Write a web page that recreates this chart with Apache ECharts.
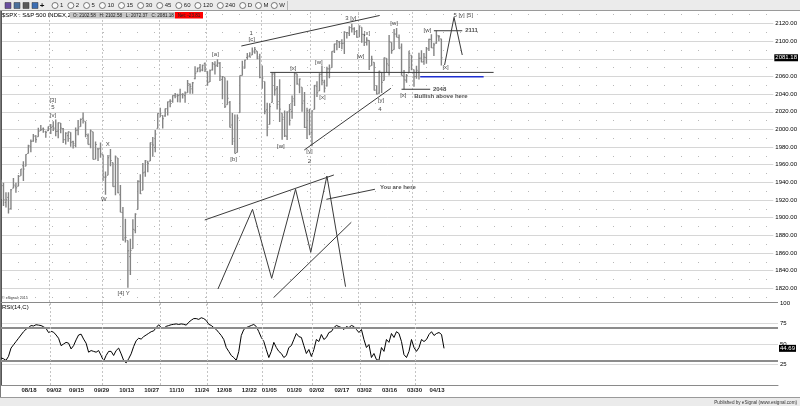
<!DOCTYPE html>
<html><head><meta charset="utf-8">
<script src="https://cdn.jsdelivr.net/npm/echarts@6/dist/echarts.min.js"></script>
<style>html,body{margin:0;padding:0;background:#fff}#c{width:800px;height:406px}</style>
</head><body><div id="c"></div>
<script>
// ---------- DATA ----------
const dates = ['08/04','08/05','08/06','08/07','08/08','08/11','08/12','08/13','08/14','08/15','08/18','08/19','08/20','08/21','08/22','08/25','08/26','08/27','08/28','08/29',
'09/02','09/03','09/04','09/05','09/08','09/09','09/10','09/11','09/12','09/15','09/16','09/17','09/18','09/19','09/22','09/23','09/24','09/25','09/26','09/29','09/30',
'10/01','10/02','10/03','10/06','10/07','10/08','10/09','10/10','10/13','10/14','10/15','10/16','10/17','10/20','10/21','10/22','10/23','10/24','10/27','10/28','10/29','10/30','10/31',
'11/03','11/04','11/05','11/06','11/07','11/10','11/11','11/12','11/13','11/14','11/17','11/18','11/19','11/20','11/21','11/24','11/25','11/26','11/28',
'12/01','12/02','12/03','12/04','12/05','12/08','12/09','12/10','12/11','12/12','12/15','12/16','12/17','12/18','12/19','12/22','12/23','12/24','12/26','12/29','12/30','12/31',
'01/02','01/05','01/06','01/07','01/08','01/09','01/12','01/13','01/14','01/15','01/16','01/20','01/21','01/22','01/23','01/26','01/27','01/28','01/29','01/30',
'02/02','02/03','02/04','02/05','02/06','02/09','02/10','02/11','02/12','02/13','02/17','02/18','02/19','02/20','02/23','02/24','02/25','02/26','02/27',
'03/02','03/03','03/04','03/05','03/06','03/09','03/10','03/11','03/12','03/13','03/16','03/17','03/18','03/19','03/20','03/23','03/24','03/25','03/26','03/27','03/30','03/31',
'04/01','04/02','04/06','04/07','04/08','04/09','04/10','04/13','04/14','04/15','04/16','04/17'];

const open = [1926.6,1936.3,1917.3,1923.0,1910.4,1933.4,1935.7,1935.6,1947.4,1958.9,1958.4,1972.7,1980.5,1986.8,1992.6,1991.7,1998.6,2000.5,1997.4,1998.5,
2004.1,2003.6,2001.7,1998.0,2007.2,2000.7,1988.4,1992.9,1996.7,1986.0,1981.9,1999.3,2003.1,2012.7,2009.1,1992.8,1983.3,1997.3,1966.2,1978.0,1978.2,
1971.4,1945.8,1948.0,1970.0,1962.4,1935.6,1967.7,1925.9,1905.7,1877.1,1874.2,1855.9,1864.9,1885.9,1909.4,1941.3,1931.0,1951.6,1963.0,1964.1,1983.3,1979.5,2001.2,
2018.2,2015.8,2015.3,2023.3,2032.0,2032.0,2038.2,2037.8,2039.2,2039.7,2038.3,2041.5,2051.2,2046.0,2057.5,2065.1,2070.2,2067.4,2074.8,
2065.8,2053.8,2067.5,2073.6,2072.8,2074.8,2056.6,2058.9,2027.9,2030.4,2005.0,1986.7,1973.8,2019.0,2061.0,2069.3,2081.5,2083.3,2084.3,2087.6,2088.5,2082.1,
2058.9,2054.4,2022.2,2005.6,2030.6,2063.5,2046.1,2031.6,2018.4,2013.8,1992.3,2020.8,2020.2,2034.7,2063.0,2050.4,2047.9,2032.3,2002.5,2019.4,
1996.7,2022.7,2048.9,2043.5,2062.3,2053.5,2049.4,2068.6,2070.0,2088.8,2096.5,2099.2,2097.6,2097.7,2109.8,2109.1,2115.3,2113.9,2110.9,
2105.2,2115.8,2107.7,2098.5,2100.9,2072.3,2076.1,2044.7,2041.1,2064.6,2055.4,2080.6,2072.8,2098.7,2090.3,2108.0,2103.9,2093.1,2059.9,2055.8,2064.1,2084.1,
2067.6,2060.0,2064.9,2080.8,2076.9,2081.3,2091.5,2102.0,2092.3,2097.8,2105.0,2102.6];

const high = [1942.9,1939.6,1928.9,1928.9,1932.4,1944.9,1939.7,1948.4,1955.2,1964.0,1972.0,1982.6,1988.6,1994.8,1993.5,2002.0,2005.0,2002.1,1998.6,2003.4,
2006.1,2009.3,2011.2,2007.7,2007.2,2001.6,1996.7,1997.5,1996.7,1987.2,2002.3,2010.7,2012.3,2019.3,2009.1,1995.4,1999.8,1997.3,1986.4,1978.6,1985.2,
1971.7,1952.3,1971.0,1977.8,1962.4,1970.4,1967.7,1937.0,1912.1,1898.7,1874.2,1876.0,1898.2,1905.0,1942.5,1949.3,1962.0,1965.3,1964.6,1985.2,1991.4,1999.4,2018.2,
2024.5,2016.0,2023.8,2031.6,2034.3,2038.7,2041.3,2040.3,2046.2,2041.1,2043.1,2056.1,2052.1,2053.8,2071.5,2070.2,2074.2,2073.4,2075.8,
2065.8,2068.0,2076.3,2077.3,2079.5,2076.3,2060.6,2058.9,2055.5,2032.3,2018.7,2016.9,2016.8,2061.2,2077.9,2078.8,2086.7,2087.3,2092.7,2093.5,2088.6,2085.6,
2072.4,2054.4,2030.3,2029.6,2064.1,2064.4,2049.3,2056.9,2018.4,2021.4,2020.5,2028.9,2038.3,2064.6,2063.0,2057.6,2047.9,2042.5,2024.6,2023.3,
2021.7,2050.3,2054.7,2063.6,2072.4,2056.2,2070.9,2073.5,2088.5,2097.0,2101.3,2100.2,2102.1,2111.1,2110.1,2117.0,2119.6,2115.8,2112.7,
2117.5,2115.8,2107.7,2104.3,2100.9,2083.5,2076.2,2050.1,2066.4,2064.9,2081.4,2080.6,2106.9,2098.7,2113.9,2114.9,2107.6,2097.4,2067.2,2062.8,2089.0,2084.1,
2067.9,2072.2,2087.0,2089.8,2086.7,2093.4,2102.6,2107.7,2098.3,2111.9,2107.0,2102.6];

const low = [1921.2,1913.3,1911.5,1904.8,1909.0,1933.4,1928.3,1935.6,1947.4,1941.5,1958.4,1972.7,1974.1,1986.1,1984.8,1991.7,1998.3,1996.2,1990.5,1998.3,
1994.9,1998.1,1992.4,1990.1,1995.6,1984.6,1983.0,1985.9,1980.3,1978.5,1979.9,1993.3,2003.1,2006.6,1991.0,1982.8,1978.6,1966.0,1966.2,1964.1,1968.0,
1941.7,1926.0,1948.0,1958.4,1935.1,1925.3,1927.6,1906.1,1874.1,1871.8,1820.7,1835.0,1864.9,1882.3,1909.4,1926.8,1931.0,1946.3,1951.4,1964.1,1969.0,1974.2,2001.0,
2013.7,2001.0,2014.4,2015.9,2025.1,2030.2,2035.3,2030.9,2030.4,2035.0,2030.2,2041.5,2040.4,2040.5,2056.8,2065.1,2064.8,2066.0,2065.1,
2049.6,2053.8,2066.7,2062.3,2070.8,2055.0,2034.2,2024.3,2027.9,2002.3,1982.3,1972.6,1973.8,2019.0,2061.0,2069.0,2078.8,2081.9,2084.3,2085.8,2079.5,2057.9,
2046.0,2017.3,1992.4,2005.6,2030.6,2038.3,2022.6,2008.3,1988.4,1991.5,1988.1,2004.5,2012.0,2026.4,2050.5,2041.0,2019.9,2001.5,1989.2,1993.4,
1980.9,2022.7,2036.7,2043.5,2050.0,2041.9,2048.6,2058.0,2070.0,2086.7,2089.8,2092.2,2090.8,2085.4,2103.0,2105.9,2109.9,2107.1,2103.8,
2104.5,2098.3,2094.5,2095.2,2067.3,2072.2,2044.2,2039.7,2040.3,2041.2,2055.4,2065.1,2061.2,2085.6,2090.3,2104.4,2091.5,2061.1,2045.5,2053.0,2064.1,2067.0,
2048.4,2057.3,2056.5,2076.1,2073.3,2074.3,2088.9,2092.3,2083.2,2097.0,2100.0,2072.4];

const close = [1939.0,1920.2,1920.2,1909.6,1931.6,1936.9,1933.8,1946.7,1955.2,1955.1,1971.7,1981.6,1986.5,1992.4,1988.4,1997.9,2000.0,2000.1,1996.7,2003.4,
2002.3,2000.7,1997.7,2007.7,2001.5,1988.4,1995.7,1997.5,1985.5,1984.1,1999.0,2001.6,2011.4,2010.4,1994.3,1982.8,1998.3,1966.0,1982.9,1977.8,1972.3,
1946.2,1946.2,1967.9,1964.8,1935.1,1968.9,1928.2,1906.1,1874.7,1877.7,1862.5,1862.8,1886.8,1904.0,1941.3,1927.1,1950.8,1964.6,1961.6,1985.1,1982.3,1994.7,2018.1,
2017.8,2012.1,2023.6,2031.2,2031.9,2038.3,2039.7,2038.3,2039.3,2039.8,2041.3,2051.8,2048.7,2052.8,2063.5,2069.4,2067.0,2072.8,2067.6,
2053.4,2066.6,2074.3,2071.9,2075.4,2060.3,2059.8,2026.1,2035.3,2002.3,1989.6,1972.7,2012.9,2061.2,2070.7,2078.5,2082.2,2081.9,2088.8,2090.6,2080.4,2058.9,
2058.2,2020.6,2002.6,2025.9,2062.1,2044.8,2028.3,2023.0,2011.3,1992.7,2019.4,2022.6,2032.1,2063.2,2051.8,2057.1,2029.6,2002.2,2021.3,1995.0,
2020.9,2050.0,2041.5,2062.5,2055.5,2046.7,2068.6,2068.5,2088.5,2097.0,2100.3,2099.7,2097.5,2110.3,2109.7,2115.5,2113.9,2110.7,2104.5,
2117.4,2107.8,2098.5,2101.0,2071.3,2079.4,2044.2,2040.2,2066.0,2053.4,2081.2,2074.3,2099.5,2089.3,2108.1,2104.4,2091.5,2061.1,2056.2,2061.0,2086.2,2067.9,
2059.7,2067.0,2080.6,2076.3,2081.9,2091.2,2102.1,2092.4,2095.8,2106.6,2105.0,2081.18];

const rsi = [33,32,30,35,45,49,53,57,61,65,68,70,72.5,72,73.5,73,72.5,71,69,64,
65.5,64.4,61,57,48,50,52,51,44,48,55,61,62,56,51,40,42,41,40,42,36,
29,36,41,41,36,42,45,38,30,27,32,38,47,54,57,56,59,61,63,65,66,70,73.5,
70,69,71.5,72.5,73.5,74,74.5,73.8,74.5,74,73,76.5,79,81,81,80,82,81,78.7,
74,72.6,70,67.7,64,60.4,55.5,45.7,40.9,36,33.5,30,41,60.4,67.7,70,71.3,72.6,73.8,71.3,65,58,
53,43,33.5,41,52,45.7,41,38.4,33.5,36,45.7,48,55.5,62.8,59,58,48,38.4,43.3,34.8,
43.3,55.5,53,61.6,55.5,58,64,65.2,70,72.6,71.3,70,67.7,71.3,70,72.6,71.3,67.7,64,
67.7,55.5,45.7,49.4,33.5,38.4,31,30,45.7,41,55.5,52,62.8,58,65,62.8,53,37,33.5,41,55.5,45.7,
41,45.7,55.5,53,55.5,61.6,65,60.4,62.8,64,61.6,44.69];

const xLabels = ['08/18','09/02','09/15','09/29','10/13','10/27','11/10','11/24','12/08','12/22','01/05','01/20','02/02','02/17','03/02','03/16','03/30','04/13'];
const lastPrice = 2081.18;
const lastRsi = 44.69;
const rsiBands = [70, 30];

// annotations: [dayIndex, price, text]
const waveLabels = [
 [20.8,2033.3,'[3]'],[20.9,2025.4,'5'],[20.9,2016.3,'[v]'],
 [42.9,1983.2,'X'],[41.3,1920.8,'W'],[49.3,1814.7,'[4] Y'],
 [86.2,2085.5,'[a]'],[93.5,1966.2,'[b]'],[100.6,2108.9,'1'],[100.8,2102.1,'[c]'],
 [112.5,1981.2,'[w]'],[117.5,2069.3,'[x]'],[124.0,1974.8,'[y]'],[124.0,1964.2,'2'],
 [127.8,2076.0,'[w]'],[129.2,2036.0,'[x]'],[140.6,2125.9,'3 [y]'],[147.1,2108.9,'[x]'],
 [144.5,2083.2,'[w]'],[158.0,2120.0,'[w]'],[152.7,2033.3,'[y]'],[152.3,2023.1,'4'],
 [161.7,2038.7,'[x]'],[171.4,2111.8,'[w]'],[178.7,2070.4,'[x]'],[185.8,2129.6,'5 [y] [5]']
];
const notes = [
 [173.6,2045.5,'2048'],[166.1,2037.9,'Bullish above here'],[186.6,2111.8,'2111'],[152.3,1934.0,'You are here']
];
const wedgeTop = [[96.6,2094.5],[152.2,2129.1]];
const wedgeBottom = [[121.9,1976.7],[156.7,2046.6]];
const xLevel = [[108.2,2064.6],[198,2064.6]];
const blueLevel = [[168.5,2059.6],[194,2059.6]];
const level2048 = [[161,2045.5],[172.5,2045.5]];
const level2111 = [[174,2111.8],[185.4,2111.8]];
const projection = [[178.3,2073],[182.1,2127],[185.4,2084.3]];
const schemTop = [[81.9,1897.4],[133.8,1948.4]];
const schemWave = [[87.2,1819.2],[101.1,1909.5],[108.8,1831.3],[118.4,1932.2],[124.5,1860.8],[131,1947.2],[138.5,1821.8]];
const schemBottom = [[109.7,1809.8],[140.8,1894.8]];
const pointer = [[130.8,1920.8],[150.3,1932.2]];

const toolbarItems = ['1','2','5','10','15','30','45','60','120','240','D','M','W'];

// ---------- CHART ----------
const FONT = '"Liberation Sans", Arial, sans-serif';
const XMAX = 777 / 2.503;
const ohlc = dates.map((d, i) => [i, open[i], high[i], low[i], close[i]]);
const monthLines = [];
for (let i = 1; i < dates.length; i++) if (dates[i].slice(0,2) !== dates[i-1].slice(0,2)) monthLines.push(i - 0.5);
const labelPos = xLabels.map(d => dates.indexOf(d) + 1.2);

const vGrid = {color:'#c4c4c4', type:[2,2], width:1};
const hidden = {color:'rgba(0,0,0,0)', width:0};
const tagLabel = txt => ({show:true, position:'end', distance:1, formatter:txt, fontSize:6,
  color:'#fff', backgroundColor:'#000', padding:[1,1,0,1], fontFamily:'"Liberation Sans", Arial, sans-serif'});

function lineSeries(data, color, width) {
  return { type:'line', xAxisIndex:0, yAxisIndex:0, data, symbol:'none', silent:true, animation:false,
    lineStyle:{color: color || '#3a3a3a', width: width || 1}, z:5 };
}

const toolbarGraphics = [];
toolbarGraphics.push({type:'rect', shape:{x:0,y:0,width:800,height:11}, style:{fill:'#ebebeb'}, z:100});
toolbarGraphics.push({type:'line', shape:{x1:0,y1:10.5,x2:800,y2:10.5}, style:{stroke:'#9a9a9a',lineWidth:1}, z:101});
const iconFills = ['#6a4fa0','#4a6f9a','#5a5a5a','#3b6db3'];
iconFills.forEach((f, k) => {
  toolbarGraphics.push({type:'rect', shape:{x:5 + k*9, y:2.5, width:6, height:6}, style:{fill:f, stroke:'#333', lineWidth:0.5}, z:101});
});
toolbarGraphics.push({type:'text', style:{text:'+', x:42, y:5.5, font:'bold 8px ' + FONT, fill:'#111', verticalAlign:'middle', align:'center'}, z:101});
let tx = 52;
toolbarItems.forEach(t => {
  toolbarGraphics.push({type:'circle', shape:{cx:tx+3, cy:5.5, r:3}, style:{fill:'#fafafa', stroke:'#444', lineWidth:0.7}, z:101});
  toolbarGraphics.push({type:'text', style:{text:t, x:tx+8, y:5.8, font:'6px ' + FONT, fill:'#222', verticalAlign:'middle'}, z:101});
  tx += 10 + t.length * 3.3 + 2.5;
});
toolbarGraphics.push({type:'line', shape:{x1:287.5,y1:1,x2:287.5,y2:10}, style:{stroke:'#b5b5b5',lineWidth:1}, z:101});

const frame = [
  {type:'text', style:{text:'$SPX : S&P 500 INDEX,240', x:2, y:15.3, font:'6px ' + FONT, fill:'#000', verticalAlign:'middle'}, z:50},
  {type:'rect', shape:{x:70,y:12,width:105,height:6.5}, style:{fill:'#c6c6c6'}, z:51},
  {type:'text', style:{text:'O: 2102.58   H: 2102.58   L: 2072.37   C: 2081.18', x:73, y:15.4, font:'4.6px ' + FONT, fill:'#111', verticalAlign:'middle'}, z:52},
  {type:'rect', shape:{x:175,y:12,width:28,height:6.5}, style:{fill:'#ff0000'}, z:51},
  {type:'text', style:{text:'Net: -23.81', x:189, y:15.4, font:'4.6px ' + FONT, fill:'#222', verticalAlign:'middle', align:'center'}, z:52},
  {type:'line', shape:{x1:0.5,y1:11,x2:0.5,y2:398}, style:{stroke:'#7a7a7a',lineWidth:1}, z:50},
  {type:'line', shape:{x1:0,y1:302.5,x2:778,y2:302.5}, style:{stroke:'#8a8a8a',lineWidth:1}, z:50},
  {type:'text', style:{text:'RSI(14,C)', x:2, y:307.5, font:'6px ' + FONT, fill:'#000', verticalAlign:'middle'}, z:50},
  {type:'text', style:{text:'© eSignal, 2015', x:2, y:297.5, font:'3.6px ' + FONT, fill:'#333', verticalAlign:'middle'}, z:50},
  {type:'rect', shape:{x:0,y:398,width:800,height:8}, style:{fill:'#ebebeb'}, z:100},
  {type:'line', shape:{x1:0,y1:397.5,x2:800,y2:397.5}, style:{stroke:'#9a9a9a',lineWidth:1}, z:101},
  {type:'text', style:{text:'Published by eSignal (www.esignal.com)', x:797, y:402.5, font:'4.6px ' + FONT, fill:'#333', verticalAlign:'middle', align:'right'}, z:101}
];

const option = {
  animation: false,
  backgroundColor: '#fff',
  textStyle: {fontFamily: FONT},
  grid: [
    {left:1, right:22, top:5.85, height:300.1},
    {left:1, right:22, top:303, height:82}
  ],
  xAxis: [
    {gridIndex:0, type:'value', min:0, max:XMAX, show:false},
    {gridIndex:1, type:'value', min:0, max:XMAX,
     axisLine:{show:true, lineStyle:{color:'#8a8a8a'}}, axisTick:{show:false}, splitLine:{show:false},
     axisLabel:{customValues: labelPos, margin:2, fontSize:6, fontWeight:'bold', color:'#222',
       formatter: v => { const j = labelPos.findIndex(p => Math.abs(p - v) < 0.01); return j >= 0 ? xLabels[j] : ''; }}}
  ],
  yAxis: [
    {gridIndex:0, type:'value', position:'right', min:1800, max:2140, interval:20,
     axisLine:{show:true, lineStyle:{color:'#555'}}, axisTick:{show:false},
     axisLabel:{margin:2, fontSize:6, color:'#000', showMinLabel:false, showMaxLabel:false, formatter: v => v.toFixed(2)},
     splitLine:{show:true, showMinLine:false, showMaxLine:false, lineStyle:{color:'#d6d6d6'}},
     minorTick:{show:false, splitNumber:2},
     minorSplitLine:{show:true, lineStyle:{color:'#b8b8b8', type:[1,16]}}},
    {gridIndex:1, type:'value', position:'right', min:0, max:100, interval:25,
     axisLine:{show:true, lineStyle:{color:'#555'}}, axisTick:{show:false},
     axisLabel:{margin:2, fontSize:6, color:'#000', showMinLabel:false},
     splitLine:{show:true, showMinLine:false, showMaxLine:false, lineStyle:{color:'#dadada'}}}
  ],
  graphic: toolbarGraphics.concat(frame),
  series: [
    {
      type:'custom', xAxisIndex:0, yAxisIndex:0, data: ohlc, z:3, silent:true, clip:true,
      encode:{x:0, y:[1,2,3,4]},
      renderItem: (params, api) => {
        const i = api.value(0);
        const pH = api.coord([i, api.value(2)]);
        const pL = api.coord([i, api.value(3)]);
        const pO = api.coord([i, api.value(1)]);
        const pC = api.coord([i, api.value(4)]);
        const x = pH[0];
        return {type:'group', children:[
          {type:'line', shape:{x1:x, y1:pH[1], x2:x, y2:pL[1]}, style:{stroke:'#848484', lineWidth:1.4}},
          {type:'line', shape:{x1:x-1.2, y1:pO[1], x2:x, y2:pO[1]}, style:{stroke:'#848484', lineWidth:1}},
          {type:'line', shape:{x1:x, y1:pC[1], x2:x+1.2, y2:pC[1]}, style:{stroke:'#848484', lineWidth:1}}
        ]};
      },
      markLine: {silent:true, symbol:'none', animation:false,
        data: monthLines.map(v => ({xAxis:v, lineStyle:vGrid, label:{show:false}}))
          .concat([{yAxis:lastPrice, lineStyle:hidden, label:tagLabel(lastPrice.toFixed(2))}])}
    },
    lineSeries(wedgeTop), lineSeries(wedgeBottom), lineSeries(xLevel), lineSeries(blueLevel, '#1f2fd0', 1.6),
    lineSeries(level2048), lineSeries(level2111), lineSeries(projection),
    lineSeries(schemTop), lineSeries(schemWave), lineSeries(schemBottom), lineSeries(pointer),
    {
      type:'scatter', xAxisIndex:0, yAxisIndex:0, symbolSize:0, silent:true, z:6,
      data: waveLabels.map(a => ({value:[a[0], a[1]], name:a[2]})),
      label:{show:true, position:'inside', formatter: p => p.name, fontSize:6, color:'#111'}
    },
    {
      type:'scatter', xAxisIndex:0, yAxisIndex:0, symbolSize:0, silent:true, z:6,
      data: notes.map(a => ({value:[a[0], a[1]], name:a[2]})),
      label:{show:true, position:'inside', align:'left', formatter: p => p.name, fontSize:6, fontWeight:'bold', color:'#222'}
    },
    {
      type:'line', xAxisIndex:1, yAxisIndex:1, data: rsi.map((v, i) => [i, v]), symbol:'none', silent:true, z:4,
      lineStyle:{color:'#000', width:1},
      markLine:{silent:true, symbol:'none', animation:false,
        data: rsiBands.map(v => ({yAxis:v, lineStyle:{color:'#8c8c8c', width:2, type:'solid'}, label:{show:false}}))
          .concat(monthLines.map(v => ({xAxis:v, lineStyle:vGrid, label:{show:false}})))
          .concat([{yAxis:lastRsi, lineStyle:hidden, label:tagLabel(String(lastRsi))}])}
    }
  ]
};
const chart = echarts.init(document.getElementById('c'));
chart.setOption(option);
</script></body></html>
